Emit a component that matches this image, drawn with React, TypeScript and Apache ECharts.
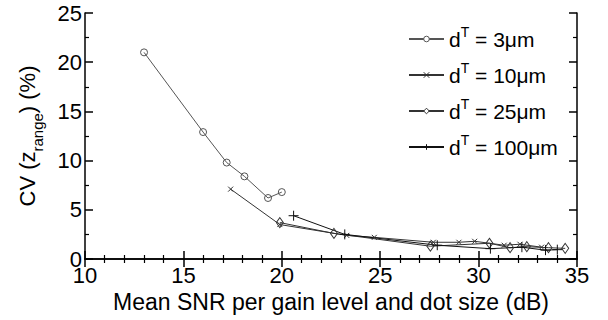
import React, { useEffect, useRef } from "react";
import * as echarts from "echarts";

const xTicks = { min: 10, max: 35, interval: 5 };
const yTicks = { min: 0, max: 25, interval: 5 };

const seriesNames = ["d{sup|T} = 3μm", "d{sup|T} = 10μm", "d{sup|T} = 25μm", "d{sup|T} = 100μm"];

const snr3 = [13.0, 16.0, 17.2, 18.1, 19.3, 20.0];
const cv3 = [21.0, 12.9, 9.8, 8.4, 6.2, 6.8];

const snr10 = [17.4, 19.9, 23.3, 24.7, 27.7, 29.0, 29.8, 31.3, 32.1, 33.2];
const cv10 = [7.1, 3.5, 2.4, 2.2, 1.7, 1.7, 1.8, 1.4, 1.5, 1.2];

const snr25 = [19.9, 22.65, 27.55, 30.55, 31.6, 32.45, 33.55, 34.4];
const cv25 = [3.7, 2.6, 1.3, 1.6, 1.15, 1.25, 1.15, 1.08];

const snr100 = [20.6, 23.2, 27.9, 30.6, 32.2, 33.4, 34.0];
const cv100 = [4.4, 2.5, 1.4, 1.05, 1.2, 0.9, 0.95];

const FONT = "'Liberation Sans', Arial, Helvetica, sans-serif";

const zip = (xs: number[], ys: number[]) => xs.map((x, i) => [x, ys[i]]);

const crossPath = "path://M0 0L10 10M10 0L0 10";
const plusPath = "path://M5 0L5 10M0 5L10 5";
const circlePath = "path://M10 5A5 5 0 1 1 0 5A5 5 0 1 1 10 5Z";
const diamondPath = "path://M4 0L8 6L4 12L0 6Z";

export default function App() {
  const ref = useRef<HTMLDivElement>(null);
  useEffect(() => {
    if (!ref.current) return;
    const chart = echarts.init(ref.current, null, { renderer: "svg" });
    const mk = (name: string, data: number[][], symbol: string, size: any, color: string) => ({
      name,
      type: "line",
      data,
      symbol,
      symbolSize: size,
      showSymbol: true,
      lineStyle: { color, width: 1 },
      itemStyle: { color: "rgba(255,255,255,0)", borderColor: color, borderWidth: 1 },
      emphasis: { disabled: true },
    });
    const minor = (n: number) => ({ show: true, splitNumber: n, length: 4, lineStyle: { color: "#000", width: 1.2 } });
    const tick = { show: true, inside: true, length: 8, lineStyle: { color: "#000", width: 1.5 } };
    const line = { show: true, lineStyle: { color: "#000", width: 1.5 } };
    const option: any = {
      animation: false,
      backgroundColor: "#fff",
      textStyle: { fontFamily: FONT },
      grid: { left: 85, right: 31, top: 13, bottom: 61 },
      legend: {
        orient: "vertical",
        left: 408,
        top: 25,
        padding: 0,
        itemWidth: 35,
        itemHeight: 7,
        itemGap: 8,
        itemStyle: { color: "#fff", borderWidth: 1 },
        data: seriesNames,
        textStyle: {
          fontFamily: FONT,
          fontSize: 21,
          color: "#000",
          lineHeight: 28,
          rich: {
            sup: { fontSize: 14, lineHeight: 14, verticalAlign: "top", fontFamily: FONT, color: "#000" },
          },
        },
      },
      xAxis: [
        {
          type: "value",
          position: "bottom",
          min: xTicks.min,
          max: xTicks.max,
          interval: xTicks.interval,
          minorTick: minor(5),
          axisLine: line,
          axisTick: tick,
          splitLine: { show: false },
          axisLabel: { fontSize: 22, color: "#000", fontFamily: FONT, margin: 5 },
          name: "Mean SNR per gain level and dot size (dB)",
          nameLocation: "middle",
          nameGap: 27,
          nameTextStyle: { fontSize: 23, color: "#000", fontFamily: FONT },
        },
        {
          type: "value",
          position: "top",
          min: xTicks.min,
          max: xTicks.max,
          interval: xTicks.interval,
          minorTick: minor(5),
          axisLine: line,
          axisTick: tick,
          splitLine: { show: false },
          axisLabel: { show: false },
        },
      ],
      yAxis: [
        {
          type: "value",
          position: "left",
          min: yTicks.min,
          max: yTicks.max,
          interval: yTicks.interval,
          minorTick: minor(2),
          axisLine: line,
          axisTick: tick,
          splitLine: { show: false },
          axisLabel: { fontSize: 22, color: "#000", fontFamily: FONT, margin: 3, lineHeight: 18 },
          name: "{a|CV (z}{s|range}{a|) (%)}",
          nameLocation: "middle",
          nameRotate: 90,
          nameGap: 40,
          nameTextStyle: {
            fontFamily: FONT,
            color: "#000",
            rich: {
              a: { fontSize: 22, lineHeight: 36, fontFamily: FONT, color: "#000" },
              s: { fontSize: 15, lineHeight: 15, verticalAlign: "bottom", fontFamily: FONT, color: "#000" },
            },
          },
        },
        {
          type: "value",
          position: "right",
          min: yTicks.min,
          max: yTicks.max,
          interval: yTicks.interval,
          minorTick: minor(2),
          axisLine: line,
          axisTick: tick,
          splitLine: { show: false },
          axisLabel: { show: false },
        },
      ],
      series: [
        mk(seriesNames[0], zip(snr3, cv3), circlePath, 7, "#555"),
        mk(seriesNames[1], zip(snr10, cv10), crossPath, 5, "#333"),
        mk(seriesNames[2], zip(snr25, cv25), diamondPath, [7, 10], "#333"),
        mk(seriesNames[3], zip(snr100, cv100), plusPath, 10, "#111"),
      ],
    };
    chart.setOption(option);
    return () => chart.dispose();
  }, []);
  return (
    <div
      ref={ref}
      style={{ position: "fixed", left: 0, top: 0, width: 608, height: 320, background: "#fff" }}
    />
  );
}
